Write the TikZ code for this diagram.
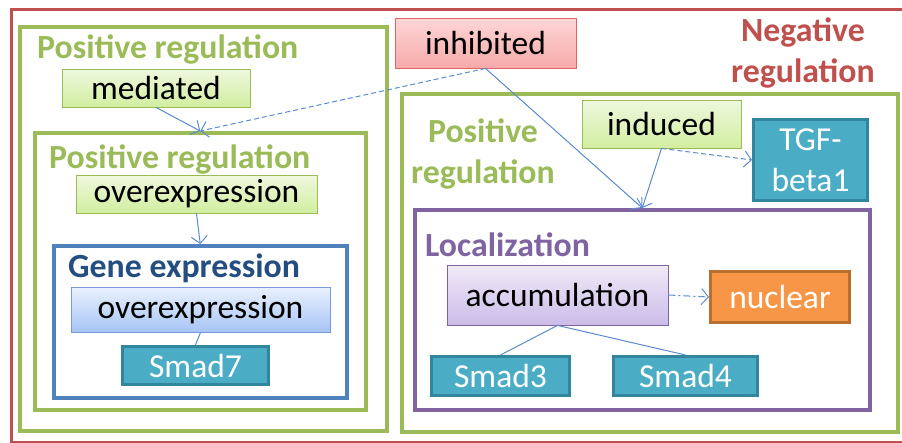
\documentclass[tikz,border=0pt]{standalone}
\usepackage{fontspec}
\setmainfont{Carlito}
\usetikzlibrary{arrows.meta}
\definecolor{ggreen}{HTML}{9BBB59}
\definecolor{rred}{HTML}{C0504D}
\definecolor{ppurple}{HTML}{8064A2}
\definecolor{bblue}{HTML}{4F81BD}
\definecolor{dblue}{HTML}{254E80}
\definecolor{teal}{HTML}{4BACC6}
\definecolor{dteal}{HTML}{31859C}
\definecolor{oorange}{HTML}{F79646}
\definecolor{dorange}{HTML}{B9702F}
\definecolor{linkblue}{HTML}{5B8BD0}
\tikzset{
  lbl/.style={font=\fontsize{33.5}{41}\selectfont},
  ttl/.style={font=\bfseries\fontsize{33.8}{41}\selectfont},
  frame/.style={draw, line width=3.5pt, inner sep=0pt, anchor=north west},
  leaf/.style={lbl, inner sep=0pt, line width=0.8pt},
  greenleaf/.style={leaf, draw=ggreen, top color={rgb,255:red,238;green,248;blue,222}, bottom color={rgb,255:red,210;green,238;blue,160}},
  pinkleaf/.style={leaf, draw={rgb,255:red,226;green,100;blue,100}, top color={rgb,255:red,255;green,214;blue,214}, bottom color={rgb,255:red,246;green,170;blue,170}},
  blueleaf/.style={leaf, draw={rgb,255:red,120;green,155;blue,215}, top color={rgb,255:red,234;green,241;blue,253}, bottom color={rgb,255:red,166;green,196;blue,245}},
  purpleleaf/.style={leaf, draw=ppurple, top color={rgb,255:red,240;green,234;blue,248}, bottom color={rgb,255:red,204;green,188;blue,232}},
  tealbox/.style={leaf, draw=dteal, fill=teal, text=white, line width=3pt},
  orangebox/.style={leaf, draw=dorange, fill=oorange, text=white, line width=3pt},
  link/.style={draw=linkblue, line width=1pt, -{Straight Barb[length=7pt,width=16pt]}},
  plainlink/.style={draw=linkblue, line width=1pt},
}
\begin{document}
\begin{tikzpicture}[x=1pt,y=-1pt]
\useasboundingbox (0,0) rectangle (902,442);
\clip (0,0) rectangle (902,442);
\fill[white] (0,0) rectangle (902,442);

% containers
\node[frame, draw=rred, line width=3pt, minimum width=900pt, minimum height=433pt] (neg) at (10,8) {};
\node[frame, draw=ggreen, minimum width=367pt, minimum height=404pt] (posA) at (18,25) {};
\node[frame, draw=ggreen, minimum width=331pt, minimum height=277pt] (posB) at (33,131) {};
\node[frame, draw=bblue, minimum width=293pt, minimum height=152pt] (gene) at (52,244) {};
\node[frame, draw=ggreen, minimum width=496pt, minimum height=338pt] (posC) at (400,92) {};
\node[frame, draw=ppurple, minimum width=455pt, minimum height=200pt] (loc) at (413,208) {};

% container titles
\node[ttl, text=ggreen, anchor=base west, inner sep=0pt] (tA) at (37,58) {Positive regulation};
\node[ttl, text=ggreen, anchor=base west, inner sep=0pt] (tB) at (49,168) {Positive regulation};
\node[ttl, text=dblue, anchor=base west, inner sep=0pt] (tG) at (68,277) {Gene expression};
\node[ttl, text=ppurple, anchor=base west, inner sep=0pt] (tL) at (425,256) {Localization};
\node[ttl, text=ggreen, align=center, inner sep=0pt, anchor=base] (tC) at (483,183) {Positive\\regulation};
\node[ttl, text=rred, align=center, inner sep=0pt, anchor=base] (tN) at (803,82) {Negative\\regulation};

% leaf boxes
\node[greenleaf, minimum width=188pt, minimum height=38pt] (mediated) at (156,88) {mediated};
\node[greenleaf, minimum width=241pt, minimum height=38pt] (overA) at (196.5,194) {overexpression};
\node[blueleaf, minimum width=259pt, minimum height=45pt] (overB) at (200.5,309.5) {overexpression};
\node[tealbox, minimum width=146pt, minimum height=38pt] (smad7) at (195.5,365.5) {Smad7};
\node[pinkleaf, minimum width=181pt, minimum height=50pt] (inhibited) at (485.5,43) {inhibited};
\node[greenleaf, minimum width=159pt, minimum height=48pt] (induced) at (661.5,124) {induced};
\node[tealbox, minimum width=114pt, minimum height=81pt, align=center, font=\fontsize{33.5}{41}\selectfont] (tgf) at (810.5,160) {TGF-\\beta1};
\node[purpleleaf, minimum width=221pt, minimum height=60pt] (accum) at (557.5,295) {accumulation};
\node[orangebox, minimum width=139pt, minimum height=51pt] (nuclear) at (780,297) {nuclear};
\node[tealbox, minimum width=138pt, minimum height=39pt] (smad3) at (500.5,376) {Smad3};
\node[tealbox, minimum width=144pt, minimum height=39pt] (smad4) at (685.5,376) {Smad4};

% connectors
\draw[link] (mediated.south) -- (posB.north);
\draw[link, dashed, dash pattern=on 5pt off 3pt] (inhibited.south) -- (posB.north);
\draw[link] (inhibited.south) -- (loc.north);
\draw[link] (induced.south) -- (loc.north);
\draw[link, dash pattern=on 5pt off 3pt] (induced.south) -- (tgf.west);
\draw[link] (overA.south) -- (gene.north);
\draw[plainlink] (overB.south) -- (smad7.north);
\draw[link, dash pattern=on 7pt off 3pt on 2pt off 3pt] (accum.east) -- (nuclear.west);
\draw[plainlink] (accum.south) -- (smad3.north);
\draw[plainlink] (accum.south) -- (smad4.north);
\end{tikzpicture}
\end{document}
